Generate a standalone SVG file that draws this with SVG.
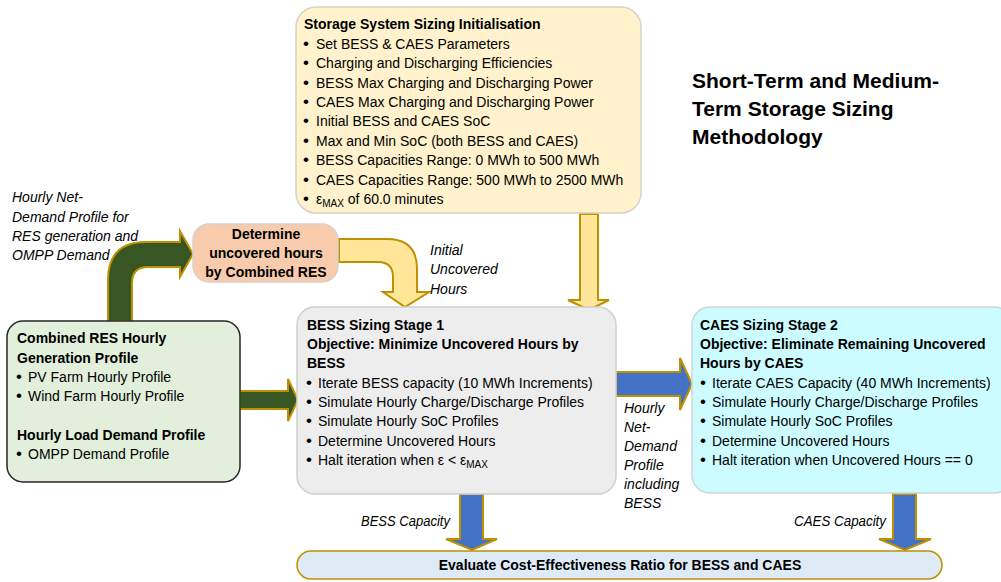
<svg xmlns="http://www.w3.org/2000/svg" width="1001" height="582" viewBox="0 0 1001 582">
<style>
text{font-family:"Liberation Sans",Arial,sans-serif;font-size:14px;fill:#000}
.b{font-weight:bold}
.i{font-style:italic}
.c{text-anchor:middle}
.t{font-size:21px;font-weight:bold}
.sub{font-size:10px}
.dot{font-size:17px}
.arr{stroke:#BF9000;stroke-width:2;stroke-linejoin:miter}
.g{fill:#375623}
.y{fill:#FFE699}
.bl{fill:#4472C4}
</style>
<rect width="1001" height="582" fill="#fff"/>
<g id="connectors">
  <path class="arr g" d="M108,321 L108,280 Q108,242 146,242 L180,242 L180,231 L193,254 L180,277 L180,267 L148,267 Q132,267 132,283 L132,321 Z"/>
  <path class="arr g" d="M240,391 L288,391 L288,379 L298,400 L288,421 L288,409 L240,409 Z"/>
  <path class="arr y" d="M339,239 L387,239 Q417,239 417,269 L417,292 L429,292 L405,307 L383,292 L393,292 L393,277 Q393,262 378,262 L339,262 Z"/>
  <path class="arr y" d="M580,214 L598,214 L598,300 L609,300 L589,310 L568,300 L580,300 Z"/>
  <path class="arr bl" d="M616,372 L680,372 L680,358 L692,384 L680,410 L680,396 L616,396 Z"/>
  <path class="arr bl" d="M460,494 L483,494 L483,539 L497,539 L472,550 L446,539 L460,539 Z"/>
  <path class="arr bl" d="M893,494 L916,494 L916,539 L931,539 L905,550 L879,539 L893,539 Z"/>
  <g id="connector-labels" class="i">
    <text x="12" y="202">Hourly Net-</text>
    <text x="12" y="222">Demand Profile for</text>
    <text x="12" y="241">RES generation and</text>
    <text x="12" y="260">OMPP Demand</text>
    <text x="430" y="255">Initial</text>
    <text x="430" y="274">Uncovered</text>
    <text x="430" y="294">Hours</text>
    <text x="624" y="413">Hourly</text>
    <text x="624" y="432">Net-</text>
    <text x="624" y="451">Demand</text>
    <text x="624" y="470">Profile</text>
    <text x="624" y="489">including</text>
    <text x="624" y="508">BESS</text>
    <text x="361" y="526" textLength="89" lengthAdjust="spacingAndGlyphs">BESS Capacity</text>
    <text x="794" y="526" textLength="92" lengthAdjust="spacingAndGlyphs">CAES Capacity</text>
  </g>
</g>
<g id="title">
  <text class="t" x="692" y="88">Short-Term and Medium-</text>
  <text class="t" x="692" y="116">Term Storage Sizing</text>
  <text class="t" x="692" y="144">Methodology</text>
</g>
<g id="init">
  <rect x="296" y="7" width="345" height="206" rx="20" fill="#FFF2CC" stroke="#D6D3C8" stroke-width="1.5"/>
  <text class="b" x="304" y="29">Storage System Sizing Initialisation</text>
  <text x="303" y="49"><tspan class="dot">•</tspan><tspan x="316">Set BESS &amp; CAES Parameters</tspan></text>
  <text x="303" y="68"><tspan class="dot">•</tspan><tspan x="316">Charging and Discharging Efficiencies</tspan></text>
  <text x="303" y="88"><tspan class="dot">•</tspan><tspan x="316">BESS Max Charging and Discharging Power</tspan></text>
  <text x="303" y="107"><tspan class="dot">•</tspan><tspan x="316">CAES Max Charging and Discharging Power</tspan></text>
  <text x="303" y="126"><tspan class="dot">•</tspan><tspan x="316">Initial BESS and CAES SoC</tspan></text>
  <text x="303" y="146"><tspan class="dot">•</tspan><tspan x="316">Max and Min SoC (both BESS and CAES)</tspan></text>
  <text x="303" y="165"><tspan class="dot">•</tspan><tspan x="316">BESS Capacities Range: 0 MWh to 500 MWh</tspan></text>
  <text x="303" y="185"><tspan class="dot">•</tspan><tspan x="316">CAES Capacities Range: 500 MWh to 2500 MWh</tspan></text>
  <text x="303" y="204"><tspan class="dot">•</tspan><tspan x="316">ε</tspan><tspan class="sub" dy="3">MAX</tspan><tspan dy="-3"> of 60.0 minutes</tspan></text>
</g>
<g id="uncovered">
  <rect x="193" y="224" width="145" height="58" rx="16" fill="#F8CBAD" stroke="#D9D0CA" stroke-width="1.5"/>
  <text class="b c" x="266" y="239">Determine</text>
  <text class="b c" x="266" y="258">uncovered hours</text>
  <text class="b c" x="266" y="277">by Combined RES</text>
</g>
<g id="inputs">
  <rect x="7" y="321" width="233" height="161" rx="16" fill="#E2EFDA" stroke="#262626" stroke-width="1.5"/>
  <text class="b" x="17" y="343">Combined RES Hourly</text>
  <text class="b" x="17" y="363">Generation Profile</text>
  <text x="16" y="382"><tspan class="dot">•</tspan><tspan x="28">PV Farm Hourly Profile</tspan></text>
  <text x="16" y="401"><tspan class="dot">•</tspan><tspan x="28">Wind Farm Hourly Profile</tspan></text>
  <text class="b" x="17" y="440">Hourly Load Demand Profile</text>
  <text x="16" y="459"><tspan class="dot">•</tspan><tspan x="28">OMPP Demand Profile</tspan></text>
</g>
<g id="bess">
  <rect x="297" y="307" width="319" height="187" rx="18" fill="#EDEDED" stroke="#D0CECE" stroke-width="1.5"/>
  <text class="b" x="307" y="330">BESS Sizing Stage 1</text>
  <text class="b" x="307" y="349">Objective: Minimize Uncovered Hours by</text>
  <text class="b" x="307" y="368">BESS</text>
  <text x="306" y="388"><tspan class="dot">•</tspan><tspan x="318">Iterate BESS capacity (10 MWh Increments)</tspan></text>
  <text x="306" y="407"><tspan class="dot">•</tspan><tspan x="318">Simulate Hourly Charge/Discharge Profiles</tspan></text>
  <text x="306" y="426"><tspan class="dot">•</tspan><tspan x="318">Simulate Hourly SoC Profiles</tspan></text>
  <text x="306" y="446"><tspan class="dot">•</tspan><tspan x="318">Determine Uncovered Hours</tspan></text>
  <text x="306" y="465"><tspan class="dot">•</tspan><tspan x="318">Halt iteration when ε &lt; ε</tspan><tspan class="sub" dy="3">MAX</tspan></text>
</g>
<g id="caes">
  <rect x="692" y="307" width="320" height="186" rx="18" fill="#CCFCFF" stroke="#D0D5D5" stroke-width="1.5"/>
  <text class="b" x="700" y="330">CAES Sizing Stage 2</text>
  <text class="b" x="700" y="349">Objective: Eliminate Remaining Uncovered</text>
  <text class="b" x="700" y="368">Hours by CAES</text>
  <text x="700" y="388"><tspan class="dot">•</tspan><tspan x="712">Iterate CAES Capacity (40 MWh Increments)</tspan></text>
  <text x="700" y="407"><tspan class="dot">•</tspan><tspan x="712">Simulate Hourly Charge/Discharge Profiles</tspan></text>
  <text x="700" y="426"><tspan class="dot">•</tspan><tspan x="712">Simulate Hourly SoC Profiles</tspan></text>
  <text x="700" y="446"><tspan class="dot">•</tspan><tspan x="712">Determine Uncovered Hours</tspan></text>
  <text x="700" y="465"><tspan class="dot">•</tspan><tspan x="712">Halt iteration when Uncovered Hours == 0</tspan></text>
</g>
<g id="evaluate">
  <rect x="297" y="551" width="645" height="28" rx="14" fill="#DEEBF7" stroke="#BF9000" stroke-width="1.5"/>
  <text class="b c" x="620" y="570">Evaluate Cost-Effectiveness Ratio for BESS and CAES</text>
</g>
</svg>
